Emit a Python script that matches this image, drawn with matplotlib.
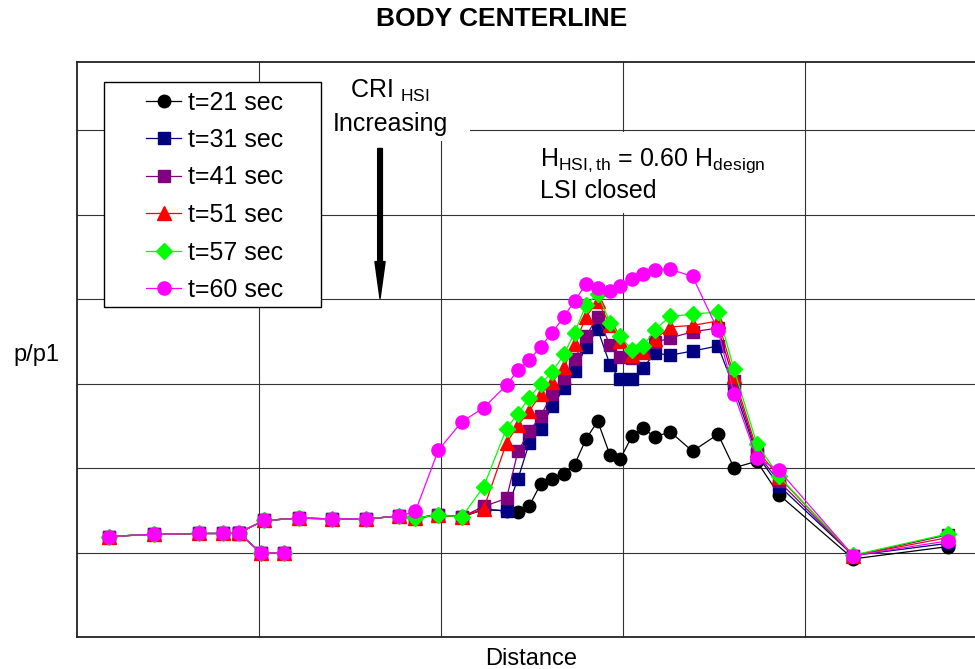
import matplotlib
matplotlib.use("Agg")
from matplotlib import pyplot as plt
from matplotlib.patches import Rectangle

plt.rcParams['font.family'] = ['Liberation Sans', 'DejaVu Sans']
plt.rcParams['mathtext.fontset'] = 'custom'
plt.rcParams['mathtext.rm'] = 'Liberation Sans'
plt.rcParams['mathtext.it'] = 'Liberation Sans'

# sensor positions along the body centerline (grid units)
distance = [0.174, 0.425, 0.672, 0.801, 0.888, 1.029, 1.218, 1.401, 1.590, 1.768,
            1.859, 1.985, 2.114, 2.234, 2.360, 2.423, 2.485, 2.547, 2.611, 2.676,
            2.734, 2.797, 2.861, 2.929, 2.984, 3.049, 3.110, 3.176, 3.258, 3.382,
            3.522, 3.610, 3.735, 3.857, 4.265, 4.787]

# forebody values, identical for every time
forebody = [1.190, 1.217, 1.226, 1.226, 1.234, 1.380, 1.407, 1.400, 1.400, 1.431]

# side branch of two taps, also identical for every time
branch_x = [0.888, 1.011, 1.136]
branch_y = [1.234, 0.996, 0.996]

p21 = [1.410, 1.445, 1.422, 1.511, 1.493, 1.479, 1.552, 1.811, 1.875, 1.930,
       2.042, 2.346, 2.556, 2.152, 2.105, 2.378, 2.476, 2.366, 2.433, 2.200,
       2.401, 2.004, 2.081, 1.685, 0.925, 1.071]
p31 = [1.410, 1.445, 1.422, 1.511, 1.495, 1.875, 2.298, 2.464, 2.734, 2.944,
       3.150, 3.438, 3.645, 3.221, 3.051, 3.051, 3.189, 3.363, 3.337, 3.387,
       3.447, 2.951, 2.160, 1.792, 0.964, 1.110]
p41 = [1.410, 1.445, 1.422, 1.546, 1.641, 2.200, 2.437, 2.615, 2.880, 3.063,
       3.289, 3.565, 3.795, 3.453, 3.322, 3.304, 3.387, 3.488, 3.542, 3.613,
       3.660, 3.031, 2.179, 1.843, 0.964, 1.210]
p51 = [1.410, 1.445, 1.422, 1.517, 2.298, 2.508, 2.675, 2.873, 3.019, 3.197,
       3.467, 3.791, 3.981, 3.690, 3.506, 3.340, 3.375, 3.526, 3.672, 3.690,
       3.743, 3.090, 2.220, 1.894, 0.964, 1.178]
p57 = [1.410, 1.445, 1.422, 1.778, 2.469, 2.647, 2.833, 2.992, 3.141, 3.348,
       3.604, 3.933, 4.064, 3.723, 3.559, 3.403, 3.441, 3.640, 3.797, 3.823,
       3.850, 3.170, 2.291, 1.903, 0.970, 1.222]
p60 = [1.487, 2.211, 2.548, 2.714, 2.983, 3.162, 3.280, 3.438, 3.604, 3.795,
       3.981, 4.179, 4.135, 4.100, 4.159, 4.239, 4.305, 4.349, 4.357, 4.270,
       3.633, 2.880, 2.120, 1.974, 0.964, 1.139]

labels = ["t=21 sec", "t=31 sec", "t=41 sec", "t=51 sec", "t=57 sec", "t=60 sec"]
series = [p21, p31, p41, p51, p57, p60]
colors = ["#000000", "#000080", "#800080", "#FF0000", "#00FF00", "#FF00FF"]
markers = ["o", "s", "s", "^", "D", "o"]
msizes = [9, 8.5, 8.5, 10, 8, 9.5]

fig = plt.figure(figsize=(9.75, 6.69), dpi=100)
ax = fig.add_axes([77/975, 32/669, 1 - 77/975, 575/669])

handles = []
for y, lab, c, m, ms in zip(series, labels, colors, markers, msizes):
    ax.plot(branch_x, branch_y, color=c, marker=m, ms=ms, lw=0.9, mec=c, zorder=3)
    h, = ax.plot(distance, forebody + y, color=c, marker=m, ms=ms, lw=0.9,
                 mec=c, label=lab, zorder=3)
    handles.append(h)

ax.set_xlim(0, 4.934)
ax.set_ylim(0, 6.81)
ax.set_xticks([1, 2, 3, 4])
ax.set_yticks([1, 2, 3, 4, 5, 6])
ax.set_xticklabels([])
ax.set_yticklabels([])
ax.tick_params(length=0)
ax.grid(True, color="#333333", lw=0.8)
ax.set_axisbelow(True)
for s in ["left", "bottom", "top"]:
    ax.spines[s].set_linewidth(1.3)
    ax.spines[s].set_color("#222222")
ax.spines["right"].set_visible(False)

# white boxes behind the annotations
ax.add_patch(Rectangle((1.346, 5.88), 0.813, 0.95, facecolor="white",
                       edgecolor="none", zorder=1))
ax.add_patch(Rectangle((2.46, 5.02), 1.40, 0.96, facecolor="white",
                       edgecolor="none", zorder=1))

ax.text(1.72, 6.28, "CRI $_{\\mathrm{HSI}}$\nIncreasing", ha="center", va="center",
        fontsize=18, linespacing=1.4, zorder=2)
ax.arrow(1.665, 5.786, 0, -1.78, width=0.026, head_width=0.056, head_length=0.44,
         length_includes_head=True, color="black", zorder=2)

ax.text(2.545, 5.14, "H$_{\\mathrm{HSI,th}}$ = 0.60 H$_{\\mathrm{design}}$\nLSI closed",
        ha="left", va="bottom", fontsize=18, linespacing=1.2, zorder=2)

# legend
ax.add_patch(Rectangle((0.148, 3.91), 1.193, 2.66, facecolor="white",
                       edgecolor="black", lw=1.0, zorder=4))
leg = ax.legend(handles=handles, loc="upper left", frameon=False, fontsize=18,
                bbox_to_anchor=((146 - 77)/898, (637 - 90.5)/575), borderaxespad=0,
                borderpad=0, handlelength=1.4, handletextpad=0.3, labelspacing=0.54)
leg.set_zorder(5)

fig.text(502/975, 1 - 19/669, "BODY CENTERLINE", ha="center", va="center",
         fontsize=19, fontweight="bold")
fig.text(36/975, 1 - 355/669, "p/p1", ha="center", va="center", fontsize=17)
fig.text(531/975, 1 - 659/669, "Distance", ha="center", va="center", fontsize=17)

fig.savefig("out.png", dpi=100)
